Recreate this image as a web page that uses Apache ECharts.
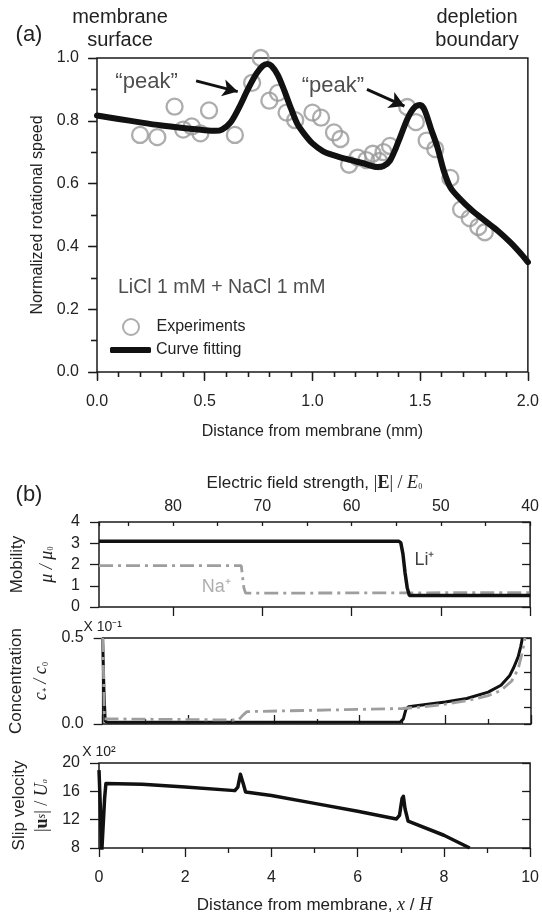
<!DOCTYPE html>
<html>
<head>
<meta charset="utf-8">
<script src="https://cdn.jsdelivr.net/npm/echarts@6/dist/echarts.min.js"></script>
<style>html,body{margin:0;padding:0;background:#fff}#c{width:542px;height:922px}</style>
</head>
<body>
<div id="c"></div>
<script>
// ---------- Panel (a) data ----------
const experiments = [
  [0.20,0.755],[0.28,0.748],[0.36,0.845],[0.40,0.772],[0.44,0.782],[0.48,0.760],
  [0.52,0.833],[0.64,0.755],[0.72,0.921],[0.76,1.000],[0.80,0.864],[0.84,0.889],
  [0.88,0.826],[0.92,0.802],[1.00,0.826],[1.04,0.810],[1.10,0.763],[1.13,0.742],
  [1.17,0.660],[1.21,0.683],[1.25,0.675],[1.28,0.695],[1.31,0.672],[1.33,0.700],
  [1.36,0.720],[1.44,0.844],[1.48,0.796],[1.53,0.737],[1.57,0.710],[1.64,0.618],
  [1.69,0.518],[1.73,0.490],[1.77,0.462],[1.80,0.445]
];
const curveFit = [
  [0.00,0.817],[0.10,0.806],[0.20,0.795],[0.30,0.785],[0.40,0.777],[0.50,0.770],
  [0.55,0.768],[0.58,0.772],[0.62,0.795],[0.66,0.843],[0.70,0.900],[0.74,0.950],
  [0.77,0.975],[0.79,0.981],[0.81,0.975],[0.84,0.945],[0.87,0.895],[0.90,0.840],
  [0.93,0.790],[0.96,0.760],[1.00,0.728],[1.05,0.703],[1.10,0.690],[1.16,0.678],
  [1.24,0.664],[1.30,0.653],[1.33,0.656],[1.36,0.673],[1.40,0.735],[1.44,0.805],
  [1.47,0.840],[1.50,0.850],[1.52,0.835],[1.55,0.775],[1.58,0.716],[1.61,0.640],
  [1.64,0.588],[1.68,0.555],[1.74,0.515],[1.80,0.482],[1.86,0.450],[1.92,0.412],
  [1.97,0.375],[2.00,0.350]
];
const peakTexts = [[0.23,0.924,'\u201Cpeak\u201D'],[1.095,0.911,'\u201Cpeak\u201D']];
const peakArrows = [[[0.46,0.927],[0.653,0.893]],[[1.253,0.900],[1.427,0.847]]];
const sampleText = [[0.095,0.269,'LiCl 1 mM + NaCl 1 mM']];

// ---------- Panel (b) data ----------
const mobilityLi = [[0,3.1],[6.95,3.1],[7.0,3.03],[7.05,2.5],[7.1,1.6],[7.15,0.9],[7.2,0.54],[10,0.54]];
const mobilityNa = [[0,1.95],[3.30,1.95],[3.33,1.88],[3.36,0.9],[3.40,0.65],[10,0.68]];
const ionLabels = [[7.55,2.2,'Li\u207A','#111'],[2.72,0.94,'Na\u207A','#999']];
const concLi = [[0,0.5],[0.03,0.2],[0.06,0.015],[0.12,0.01],[6.95,0.012],[7.02,0.03],[7.08,0.085],
  [7.14,0.1],[7.5,0.112],[8,0.128],[8.5,0.148],[9,0.185],[9.3,0.225],[9.5,0.28],[9.6,0.33],
  [9.7,0.39],[9.76,0.45],[9.8,0.5]];
const concNa = [[0,0.5],[0.02,0.3],[0.04,0.03],[0.08,0.023],[3.17,0.023],[3.27,0.05],[3.37,0.072],
  [5,0.08],[7,0.09],[7.5,0.1],[8,0.115],[8.5,0.135],[9,0.165],[9.3,0.195],[9.55,0.25],
  [9.7,0.32],[9.8,0.42],[9.86,0.5]];
const slipVel = [[0,19.0],[0.03,14],[0.06,7],[0.10,7],[0.13,15],[0.16,17.1],[0.2,17.3],[1,17.0],
  [2,16.6],[3.15,16.1],[3.22,16.6],[3.28,18.4],[3.31,18.6],[3.35,17],[3.4,15.9],[4,15.4],
  [5,14.3],[6,13.2],[6.9,12.1],[6.97,12.6],[7.03,15],[7.06,15.3],[7.1,13.5],[7.17,11.8],
  [8,9.8],[8.6,8.0]];

const FONT = 'Liberation Sans, Arial, Helvetica, sans-serif';
const SERIF = 'Liberation Serif, Times New Roman, serif';
const INK = '#1a1a1a';

function ax(o){
  const base = {type:'value', axisLine:{show:false}, splitLine:{show:false},
    axisTick:{show:false}, axisLabel:{show:false}, minorTick:{show:false}};
  return Object.assign(base, o);
}
const tickStyle = {color:INK, width:1.3};
const labStyle = (m) => ({show:true, fontSize:16, color:'#222', margin:m, fontFamily:FONT});
const legendText = {fontSize:16, color:'#222', fontFamily:FONT};

const chart = echarts.init(document.getElementById('c'), null, {renderer:'canvas'});
const option = {
  animation:false,
  backgroundColor:'#fff',
  textStyle:{fontFamily:FONT},
  graphic:[
    {type:'text', x:29, y:35, style:{text:'(a)', fontSize:22, fontFamily:FONT, fill:'#222', textAlign:'center', textVerticalAlign:'middle', align:'center', verticalAlign:'middle'}},
    {type:'text', x:120, y:29, style:{text:'membrane\nsurface', fontSize:20, lineHeight:22.5, fontFamily:FONT, fill:'#222', textAlign:'center', textVerticalAlign:'middle', align:'center', verticalAlign:'middle'}},
    {type:'text', x:477, y:29, style:{text:'depletion\nboundary', fontSize:20, lineHeight:22.5, fontFamily:FONT, fill:'#222', textAlign:'center', textVerticalAlign:'middle', align:'center', verticalAlign:'middle'}},
    {type:'text', x:29, y:495, style:{text:'(b)', fontSize:22, fontFamily:FONT, fill:'#222', textAlign:'center', textVerticalAlign:'middle', align:'center', verticalAlign:'middle'}}
  ],
  legend:[
    {data:['Experiments'], orient:'vertical', left:122, top:318,
      itemWidth:41, itemHeight:16, padding:0, textStyle:legendText, selectedMode:false},
    {data:[{name:'Curve fitting', icon:'roundRect'}], orient:'vertical', left:110, top:342,
      itemWidth:41, itemHeight:6, padding:0, textStyle:legendText, selectedMode:false}
  ],
  grid:[
    {left:97, top:58, width:433, height:314, show:true, borderColor:INK, borderWidth:1.5},
    {left:99, top:522, width:432, height:85, show:true, borderColor:INK, borderWidth:1.5},
    {left:99, top:638, width:432, height:86, show:true, borderColor:INK, borderWidth:1.5},
    {left:99, top:763, width:432, height:85, show:true, borderColor:INK, borderWidth:1.5}
  ],
  xAxis:[
    ax({gridIndex:0, position:'bottom', min:0, max:2, interval:0.5,
      axisTick:{show:true, inside:false, length:9, lineStyle:tickStyle},
      minorTick:{show:true, splitNumber:5, length:5, lineStyle:tickStyle},
      axisLabel:Object.assign(labStyle(22), {formatter:v=>v.toFixed(1)}),
      name:'Distance from membrane (mm)', nameLocation:'middle', nameGap:52,
      nameTextStyle:{fontSize:16, color:'#222', fontFamily:FONT}}),
    ax({gridIndex:0, position:'top', min:0, max:2, interval:0.5,
      axisTick:{show:true, inside:true, length:8, lineStyle:tickStyle},
      minorTick:{show:true, splitNumber:5, length:5, lineStyle:tickStyle}}),
    ax({gridIndex:1, position:'bottom', min:0, max:10}),
    ax({gridIndex:1, position:'top', min:40, max:88.3, inverse:true, interval:10,
      axisTick:{show:true, inside:true, length:9, lineStyle:tickStyle},
      axisLabel:Object.assign(labStyle(7), {showMaxLabel:false, formatter:v=>(v%10===0?String(v):'')}),
      name:'{a|Electric field strength, }{m||}{b|E}{m|| / }{i|E}{s|\u2080}', nameLocation:'middle', nameGap:30,
      nameTextStyle:{rich:{
        a:{fontSize:17, color:'#222', fontFamily:FONT},
        m:{fontSize:18, color:'#222', fontFamily:SERIF},
        b:{fontSize:18, color:'#222', fontFamily:SERIF, fontWeight:'bold'},
        i:{fontSize:18, color:'#222', fontFamily:SERIF, fontStyle:'italic'},
        s:{fontSize:13, color:'#222', fontFamily:SERIF}}}}),
    ax({gridIndex:1, position:'top', min:40, max:88.3, inverse:true, interval:5,
      axisTick:{show:true, inside:true, length:4, lineStyle:tickStyle}}),
    ax({gridIndex:2, position:'bottom', min:0, max:10, interval:2,
      axisTick:{show:true, inside:true, length:9, lineStyle:tickStyle},
      minorTick:{show:true, splitNumber:2, length:5, lineStyle:tickStyle}}),
    ax({gridIndex:3, position:'bottom', min:0, max:10, interval:2,
      axisTick:{show:true, inside:false, length:9, lineStyle:tickStyle},
      minorTick:{show:true, splitNumber:2, length:5, lineStyle:tickStyle},
      axisLabel:labStyle(22),
      name:'{a|Distance from membrane, }{i|x}{a| / }{i|H}', nameLocation:'middle', nameGap:48,
      nameTextStyle:{rich:{
        a:{fontSize:17, color:'#222', fontFamily:FONT},
        i:{fontSize:18, color:'#222', fontFamily:SERIF, fontStyle:'italic'}}}})
  ],
  yAxis:[
    ax({gridIndex:0, position:'left', min:0, max:1, interval:0.2,
      axisTick:{show:true, inside:false, length:9, lineStyle:tickStyle},
      minorTick:{show:true, splitNumber:2, length:6, lineStyle:tickStyle},
      axisLabel:Object.assign(labStyle(18), {formatter:v=>v.toFixed(1)}),
      name:'Normalized rotational speed', nameLocation:'middle', nameRotate:90, nameGap:51,
      nameTextStyle:{fontSize:16, color:'#222', fontFamily:FONT}}),
    ax({gridIndex:0, position:'right', min:0, max:1, interval:0.2,
      axisTick:{show:true, inside:true, length:8, lineStyle:tickStyle},
      minorTick:{show:true, splitNumber:2, length:6, lineStyle:tickStyle}}),
    ax({gridIndex:1, position:'left', min:0, max:4, interval:1,
      axisTick:{show:true, inside:false, length:9, lineStyle:tickStyle},
      axisLabel:labStyle(19),
      name:'{a|Mobility}\n{i|\u03BC / \u03BC}{s|\u2080}', nameLocation:'middle', nameRotate:90, nameGap:37,
      nameTextStyle:{rich:{
        a:{fontSize:17, color:'#222', fontFamily:FONT, lineHeight:30},
        i:{fontSize:18, color:'#222', fontFamily:SERIF, fontStyle:'italic', lineHeight:30},
        s:{fontSize:13, color:'#222', fontFamily:SERIF, lineHeight:30}}}}),
    ax({gridIndex:1, position:'right', min:0, max:4, interval:1,
      axisTick:{show:true, inside:true, length:8, lineStyle:tickStyle}}),
    ax({gridIndex:2, position:'left', min:0, max:0.5, interval:0.5,
      axisTick:{show:true, inside:false, length:9, lineStyle:tickStyle},
      axisLabel:Object.assign(labStyle(19), {formatter:v=>v.toFixed(1)}),
      name:'{a|Concentration}\n{i|c}{s|\u208A}{i| / c}{s|\u2080}', nameLocation:'middle', nameRotate:90, nameGap:43,
      nameTextStyle:{rich:{
        a:{fontSize:17, color:'#222', fontFamily:FONT, lineHeight:25},
        i:{fontSize:18, color:'#222', fontFamily:SERIF, fontStyle:'italic', lineHeight:25},
        s:{fontSize:13, color:'#222', fontFamily:SERIF, lineHeight:25}}}}),
    ax({gridIndex:2, position:'right', min:0, max:0.5, interval:0.1,
      axisTick:{show:true, inside:true, length:7, lineStyle:tickStyle}}),
    ax({gridIndex:2, position:'left', min:0, max:0.5,
      name:'X 10\u207B\u00B9', nameLocation:'end', nameGap:4,
      nameTextStyle:{fontSize:14, color:'#222', fontFamily:FONT, align:'center'}}),
    ax({gridIndex:3, position:'left', min:8, max:20, interval:4,
      axisTick:{show:true, inside:false, length:9, lineStyle:tickStyle},
      axisLabel:labStyle(19),
      name:'{a|Slip velocity}\n{m||}{b|u}{s|s}{m|| / }{i|U}{s|\u2080}', nameLocation:'middle', nameRotate:90, nameGap:45,
      nameTextStyle:{rich:{
        a:{fontSize:17, color:'#222', fontFamily:FONT, lineHeight:23},
        m:{fontSize:18, color:'#222', fontFamily:SERIF, lineHeight:23},
        b:{fontSize:18, color:'#222', fontFamily:SERIF, fontWeight:'bold', lineHeight:23},
        i:{fontSize:18, color:'#222', fontFamily:SERIF, fontStyle:'italic', lineHeight:23},
        s:{fontSize:12, color:'#222', fontFamily:SERIF, fontStyle:'italic', lineHeight:23}}}}),
    ax({gridIndex:3, position:'right', min:8, max:20, interval:4,
      axisTick:{show:true, inside:true, length:8, lineStyle:tickStyle}}),
    ax({gridIndex:3, position:'left', min:8, max:20,
      name:'X 10\u00B2', nameLocation:'end', nameGap:4,
      nameTextStyle:{fontSize:14, color:'#222', fontFamily:FONT, align:'center'}})
  ],
  series:[
    {name:'Experiments', type:'scatter', xAxisIndex:0, yAxisIndex:0, data:experiments,
      symbol:'circle', symbolSize:16, z:2,
      itemStyle:{color:'rgba(255,255,255,0)', borderColor:'#999', borderWidth:2.3}},
    {name:'Curve fitting', type:'line', xAxisIndex:0, yAxisIndex:0, data:curveFit,
      symbol:'none', smooth:0.3, z:3, lineStyle:{color:'#111', width:6, cap:'round', join:'round'},
      itemStyle:{color:'#111'},
      markLine:{silent:true, symbol:['none','arrow'], symbolSize:[13,15],
        label:{show:false}, lineStyle:{color:'#111', width:3, type:'solid'},
        data:peakArrows.map(a=>[{coord:a[0]},{coord:a[1]}])}},
    {type:'scatter', xAxisIndex:0, yAxisIndex:0, data:peakTexts, symbolSize:1, z:4, silent:true,
      itemStyle:{color:'rgba(0,0,0,0)'},
      label:{show:true, position:'inside', formatter:p=>p.data[2], fontSize:22, color:'#222', fontFamily:FONT}},
    {type:'scatter', xAxisIndex:0, yAxisIndex:0, data:sampleText, symbolSize:1, z:4, silent:true,
      itemStyle:{color:'rgba(0,0,0,0)'},
      label:{show:true, position:'right', distance:0, formatter:p=>p.data[2], fontSize:19.5, color:'#222', fontFamily:FONT}},
    {type:'line', xAxisIndex:2, yAxisIndex:2, data:mobilityNa, symbol:'none', z:2,
      lineStyle:{color:'#9e9e9e', width:2.8, type:[14,5,3,5]}},
    {type:'line', xAxisIndex:2, yAxisIndex:2, data:mobilityLi, symbol:'none', z:3,
      lineStyle:{color:'#111', width:3.5}},
    {type:'scatter', xAxisIndex:2, yAxisIndex:2, symbolSize:1, z:4, silent:true,
      data:ionLabels.map(d=>({value:[d[0],d[1],d[2]], label:{color:d[3]}})),
      itemStyle:{color:'rgba(0,0,0,0)'},
      label:{show:true, position:'inside', formatter:p=>p.value[2], fontSize:18, fontFamily:FONT, color:'#111'}},
    {type:'line', xAxisIndex:5, yAxisIndex:4, data:concLi, symbol:'none', z:2,
      lineStyle:{color:'#111', width:3}},
    {type:'line', xAxisIndex:5, yAxisIndex:4, data:concNa, symbol:'none', z:3,
      lineStyle:{color:'#9e9e9e', width:2.8, type:[14,5,3,5]}},
    {type:'line', xAxisIndex:6, yAxisIndex:7, data:slipVel, symbol:'none', z:3,
      lineStyle:{color:'#111', width:3.5, join:'round'}}
  ]
};
chart.setOption(option);
</script>
</body>
</html>
